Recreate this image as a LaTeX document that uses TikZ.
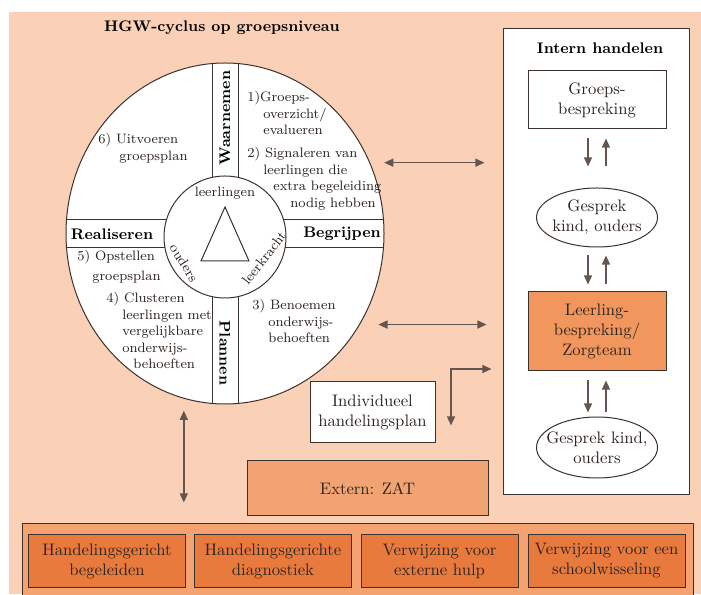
\documentclass[tikz,border=0pt]{standalone}
\usepackage{xcolor}
\usepackage{tikz}
\usetikzlibrary{arrows.meta}
\usetikzlibrary{shapes.geometric}
\definecolor{peach}{RGB}{250,208,182}
\definecolor{zatorange}{RGB}{241,163,113}
\definecolor{zorgorange}{RGB}{241,150,92}
\definecolor{routeorange}{RGB}{243,162,112}
\definecolor{bandorange}{RGB}{232,122,62}
\definecolor{inkline}{RGB}{60,50,45}
\definecolor{inktext}{RGB}{45,35,30}
\definecolor{arrowgray}{RGB}{100,85,80}
\tikzset{
plain box/.style = { rectangle, draw = inkline, fill = white, line width = 0.6pt, align = center, text = inktext, inner sep = 0pt, font = \fontsize{10}{12}\selectfont },
talk/.style = { ellipse, draw = inkline, fill = white, line width = 0.6pt, align = center, text = inktext, inner xsep = -6pt, inner ysep = 0pt, font = \fontsize{10}{12}\selectfont },
phase label/.style = { inner sep = 0pt, text = black, font = \fontsize{9.2}{11}\selectfont\bfseries },
step text/.style = { anchor = north west, align = left, inner sep = 0pt, text = inktext, font = \fontsize{8.2}{9.9}\selectfont },
one way/.style = { -{Triangle[length=5.5pt, width=4.8pt]}, draw = arrowgray, line width = 0.9pt },
two way/.style = { {Triangle[length=5.5pt, width=4.8pt]}-{Triangle[length=5.5pt, width=4.8pt]}, draw = arrowgray, line width = 0.9pt },
}
\begin{document}
\begin{tikzpicture}[x=0.6pt, y=0.6pt]
  \clip (0,0) rectangle (701,594);
  \fill[white] (0,0) rectangle (701,594);
  \fill[peach] (9,0) rectangle (701,582);

  \node[phase label] (titel) at (222,566) {HGW-cyclus op groepsniveau};

  \node[ellipse, draw=inkline, fill=white, line width=0.6pt, minimum width=190.8pt, minimum height=204.6pt, inner sep=0pt] (cyc) at (225,360.5) {};
  \begin{scope}
    \clip (225,360.5) ellipse [x radius=159, y radius=170.5];
    \draw[inkline, line width=0.6pt] (212,150) -- (212,600) (238,150) -- (238,600) (40,374) -- (400,374) (40,346) -- (400,346);
  \end{scope}
  \node[circle, draw=inkline, fill=white, line width=0.6pt, minimum size=73.2pt, inner sep=0pt] (kern) at (225,357) {};
  \draw[inkline, line width=0.6pt] (225,387) -- (201,333) -- (249,333) -- cycle;
  \node[step text, anchor=center] (leerlingen) at (225,401) {leerlingen};
  \node[step text, anchor=center, rotate=-58] (ouders) at (184,331) {ouders};
  \node[step text, anchor=center, rotate=52] (leerkracht) at (264,336) {leerkracht};

  \node[phase label, rotate=90] (waarnemen) at (225,476) {Waarnemen};
  \node[phase label, rotate=-90] (plannen) at (225,241) {Plannen};
  \node[phase label] (realiseren) at (112,360) {Realiseren};
  \node[phase label] (begrijpen) at (342,360) {Begrijpen};

  \node[step text] (groeps) at (247,503) {1)Groeps-\\\hspace*{9.6pt}overzicht/\\\hspace*{9.6pt}evalueren};
  \node[step text] (signaal) at (247,447) {2) Signaleren van\\\hspace*{9.6pt}leerlingen die\\\hspace*{15.6pt}extra begeleiding\\\hspace*{25.8pt}nodig hebben};
  \node[step text] (uitvoer) at (98,461) {6) Uitvoeren\\\hspace*{12.6pt}groepsplan};
  \node[step text] (opstel) at (77,344) {5) Opstellen\\[2pt]\hspace*{9pt}groepsplan};
  \node[step text] (cluster) at (106,302) {4) Clusteren\\\hspace*{9.6pt}leerlingen met\\\hspace*{9.6pt}vergelijkbare\\\hspace*{9.6pt}onderwijs-\\\hspace*{16.2pt}behoeften};
  \node[step text] (benoem) at (252,295) {3) Benoemen\\\hspace*{9.6pt}onderwijs-\\\hspace*{9.6pt}behoeften};

  \node[plain box, minimum width=111.6pt, minimum height=279.6pt] (intern) at (596,332) {};
  \node[phase label] (internkop) at (600,546) {Intern handelen};
  \node[plain box, minimum width=82.8pt, minimum height=34.8pt] (grp) at (597,494) {Groeps-\\bespreking};
  \node[talk, minimum width=72.6pt, minimum height=35.4pt] (gk1) at (597,376.5) {Gesprek\\kind, ouders};
  \node[plain box, fill=zorgorange, minimum width=82.8pt, minimum height=47.4pt] (lbz) at (597,262.5) {Leerling-\\bespreking/\\Zorgteam};
  \node[talk, minimum width=72.6pt, minimum height=36.6pt] (gk2) at (597,146.5) {Gesprek kind,\\ouders};

  \node[plain box, minimum width=75pt, minimum height=36.6pt] (ihp) at (372.5,181.5) {Individueel\\handelingsplan};
  \node[plain box, fill=zatorange, minimum width=144.6pt, minimum height=33pt] (zat) at (367.5,105.5) {Extern: ZAT};
  \node[plain box, fill=routeorange, minimum width=402.6pt, minimum height=45.6pt] (routes) at (357.5,32) {};
  \node[plain box, fill=bandorange, minimum width=94.2pt, minimum height=31.2pt] (hgb) at (107,33) {Handelingsgericht\\begeleiden};
  \node[plain box, fill=bandorange, minimum width=94.2pt, minimum height=31.2pt] (hgd) at (273,33) {Handelingsgerichte\\diagnostiek};
  \node[plain box, fill=bandorange, minimum width=94.2pt, minimum height=31.2pt] (hulp) at (439.5,33) {Verwijzing voor\\externe hulp};
  \node[plain box, fill=bandorange, minimum width=94.2pt, minimum height=31.2pt] (wissel) at (606.5,33) {Verwijzing voor een\\schoolwisseling};

  \draw[one way, transform canvas={xshift=-5.4pt}, shorten <=5.4pt, shorten >=12.6pt] (grp) -- (gk1);
  \draw[one way, transform canvas={xshift=5.4pt}, shorten <=12.6pt, shorten >=5.4pt] (gk1) -- (grp);
  \draw[one way, transform canvas={xshift=-5.4pt}, shorten <=4.8pt, shorten >=4.2pt] (gk1) -- (lbz);
  \draw[one way, transform canvas={xshift=5.4pt}, shorten <=4.2pt, shorten >=4.8pt] (lbz) -- (gk1);
  \draw[one way, transform canvas={xshift=-5.4pt}, shorten <=5.4pt, shorten >=2.4pt] (lbz) -- (gk2);
  \draw[one way, transform canvas={xshift=5.4pt}, shorten <=2.4pt, shorten >=5.4pt] (gk2) -- (lbz);

  \draw[two way, shorten <=8.4pt, shorten >=10.8pt] (cyc.26.4) -- (cyc.26.4 -| intern.west);
  \draw[two way, shorten <=11pt, shorten >=9.6pt] (cyc.-34.7) -- (cyc.-34.7 -| intern.west);
  \draw[two way, shorten <=7.2pt, shorten >=12.6pt] (cyc.-104.3) -- (cyc.-104.3 |- routes.north);
  \coordinate (knik) at (451,225);
  \draw[two way, shorten <=10.8pt, shorten >=6.6pt] (knik |- ihp.south) -- (knik) -- (knik -| intern.west);
\end{tikzpicture}
\end{document}
